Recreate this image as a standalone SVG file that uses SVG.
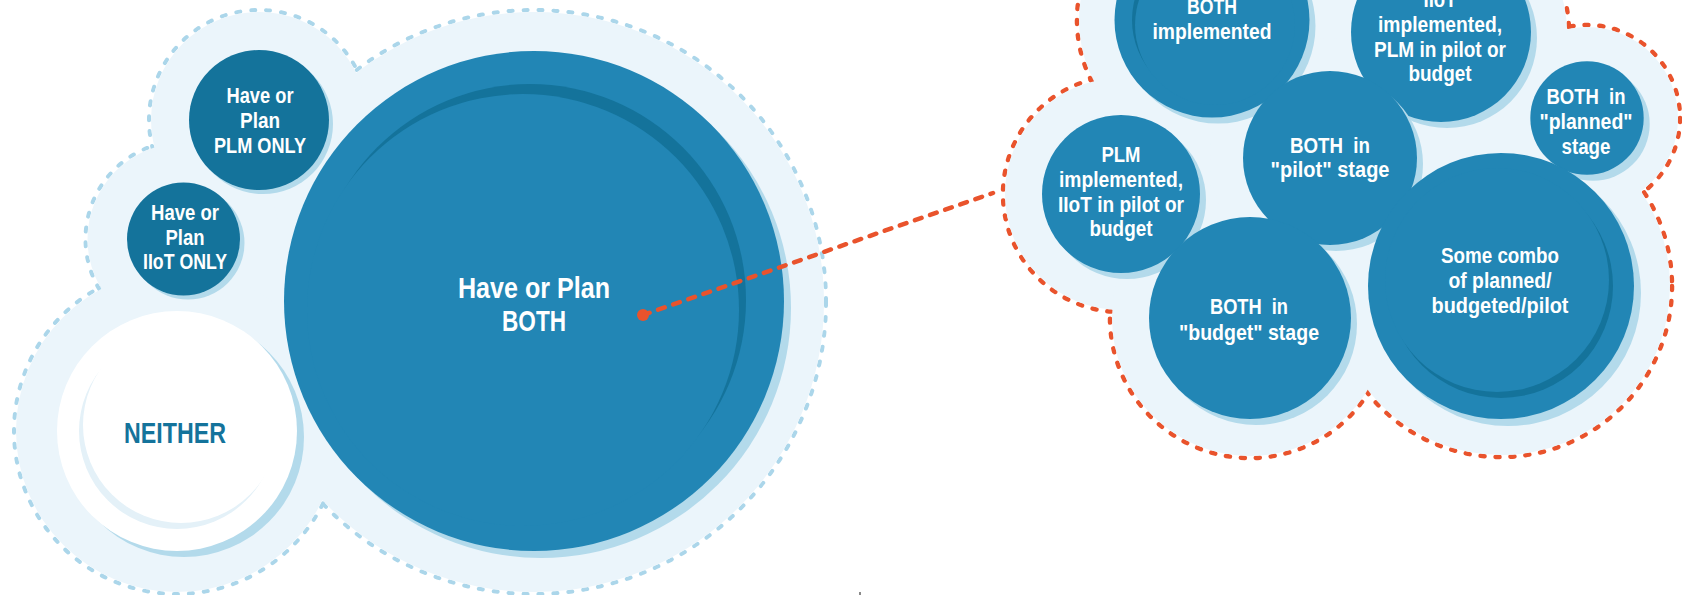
<svg xmlns="http://www.w3.org/2000/svg" width="1682" height="595" viewBox="0 0 1682 595">
<style>
.bf{fill:#ebf5fb}
.bd{fill:none;stroke:#abd6ea;stroke-width:4;stroke-dasharray:4 11;stroke-linecap:round}
.rd{fill:none;stroke:#e9532c;stroke-width:4.5;stroke-dasharray:4 11;stroke-linecap:round}
.sh{fill:#b3daeb}
.mb{fill:#2286b5}
.dk{fill:#14739b}
.wh{fill:#ffffff}
.lt{fill:#e4f1f8}
.t{font-family:"Liberation Sans",Arial,sans-serif;font-weight:bold;fill:#ffffff;text-anchor:middle}
.s22{font-size:22px}
.s30{font-size:30px}
</style>
<rect width="1682" height="595" fill="#ffffff"/>
<g id="left-cloud">
<circle class="bd" cx="534" cy="302" r="292"/>
<circle class="bd" cx="259" cy="120" r="110"/>
<circle class="bd" cx="183.5" cy="239" r="98"/>
<circle class="bd" cx="177" cy="431" r="163"/>
<circle class="bf" cx="534" cy="302" r="290"/>
<circle class="bf" cx="259" cy="120" r="108"/>
<circle class="bf" cx="183.5" cy="239" r="96"/>
<circle class="bf" cx="177" cy="431" r="161"/>
</g>
<g id="right-cloud">
<circle class="rd" cx="1212" cy="20" r="135"/>
<circle class="rd" cx="1441" cy="32" r="128"/>
<circle class="rd" cx="1587" cy="118" r="93"/>
<circle class="rd" cx="1121" cy="194" r="118"/>
<circle class="rd" cx="1501" cy="286" r="171"/>
<circle class="rd" cx="1250" cy="318" r="140"/>
<circle class="bf" cx="1212" cy="20" r="133"/>
<circle class="bf" cx="1441" cy="32" r="126"/>
<circle class="bf" cx="1587" cy="118" r="91"/>
<circle class="bf" cx="1121" cy="194" r="116"/>
<circle class="bf" cx="1501" cy="286" r="169"/>
<circle class="bf" cx="1250" cy="318" r="138"/>
<circle class="bf" cx="1330" cy="158" r="120"/>
</g>
<g id="node-both">
<circle class="sh" cx="541" cy="308" r="250"/>
<circle class="mb" cx="534" cy="301" r="250"/>
<circle class="dk" cx="530" cy="300" r="216"/>
<circle class="mb" cx="523" cy="310" r="216"/>
<text class="t s30" x="534" y="298" textLength="152" lengthAdjust="spacingAndGlyphs">Have or Plan</text>
<text class="t s30" x="534" y="331" textLength="64" lengthAdjust="spacingAndGlyphs">BOTH</text>
</g>
<g id="node-plm-only">
<circle class="sh" cx="263" cy="124" r="70"/>
<circle class="dk" cx="259" cy="120" r="70"/>
<text class="t s22" x="260" y="103" textLength="67" lengthAdjust="spacingAndGlyphs">Have or</text>
<text class="t s22" x="260" y="128" textLength="40" lengthAdjust="spacingAndGlyphs">Plan</text>
<text class="t s22" x="260" y="153" textLength="92" lengthAdjust="spacingAndGlyphs">PLM ONLY</text>
</g>
<g id="node-iiot-only">
<circle class="sh" cx="188" cy="243" r="56.5"/>
<circle class="dk" cx="183.5" cy="239" r="56.5"/>
<text class="t s22" x="185" y="220" textLength="68" lengthAdjust="spacingAndGlyphs">Have or</text>
<text class="t s22" x="185" y="245" textLength="39" lengthAdjust="spacingAndGlyphs">Plan</text>
<text class="t s22" x="185" y="269" textLength="84" lengthAdjust="spacingAndGlyphs">IIoT ONLY</text>
</g>
<g id="node-neither">
<circle class="sh" cx="184" cy="437" r="120"/>
<circle class="wh" cx="177" cy="431" r="120"/>
<circle class="lt" cx="177" cy="431" r="98"/>
<circle class="wh" cx="181" cy="425" r="98"/>
<text class="t s30" x="175" y="443" style="fill:#14739b" textLength="102" lengthAdjust="spacingAndGlyphs">NEITHER</text>
</g>
<g id="node-both-implemented">
<circle class="sh" cx="1218" cy="26" r="97.5"/>
<circle class="mb" cx="1212" cy="20" r="97.5"/>
<circle class="dk" cx="1212" cy="20" r="80"/>
<circle class="mb" cx="1215" cy="25" r="80"/>
<text class="t s22" x="1212" y="14" textLength="50" lengthAdjust="spacingAndGlyphs">BOTH</text>
<text class="t s22" x="1212" y="39" textLength="119" lengthAdjust="spacingAndGlyphs">implemented</text>
</g>
<g id="node-iiot-implemented">
<circle class="sh" cx="1447" cy="38" r="90"/>
<circle class="mb" cx="1441" cy="32" r="90"/>
<text class="t s22" x="1440" y="7" textLength="33" lengthAdjust="spacingAndGlyphs">IIoT</text>
<text class="t s22" x="1440" y="32" textLength="124" lengthAdjust="spacingAndGlyphs">implemented,</text>
<text class="t s22" x="1440" y="57" textLength="132" lengthAdjust="spacingAndGlyphs">PLM in pilot or</text>
<text class="t s22" x="1440" y="81" textLength="63" lengthAdjust="spacingAndGlyphs">budget</text>
</g>
<g id="node-both-planned">
<circle class="sh" cx="1593" cy="124" r="56.7"/>
<circle class="mb" cx="1587" cy="118" r="56.7"/>
<text class="t s22" x="1586" y="104" xml:space="preserve" textLength="79" lengthAdjust="spacingAndGlyphs">BOTH  in</text>
<text class="t s22" x="1586" y="129" textLength="93" lengthAdjust="spacingAndGlyphs">"planned"</text>
<text class="t s22" x="1586" y="154" textLength="49" lengthAdjust="spacingAndGlyphs">stage</text>
</g>
<g id="node-plm-implemented">
<circle class="sh" cx="1127" cy="200" r="79"/>
<circle class="mb" cx="1121" cy="194" r="79"/>
<text class="t s22" x="1121" y="162" textLength="39" lengthAdjust="spacingAndGlyphs">PLM</text>
<text class="t s22" x="1121" y="187" textLength="124" lengthAdjust="spacingAndGlyphs">implemented,</text>
<text class="t s22" x="1121" y="212" textLength="126" lengthAdjust="spacingAndGlyphs">IIoT in pilot or</text>
<text class="t s22" x="1121" y="236" textLength="63" lengthAdjust="spacingAndGlyphs">budget</text>
</g>
<g id="node-both-pilot">
<circle class="sh" cx="1336" cy="164" r="87"/>
<circle class="mb" cx="1330" cy="158" r="87"/>
<text class="t s22" x="1330" y="153" xml:space="preserve" textLength="80" lengthAdjust="spacingAndGlyphs">BOTH  in</text>
<text class="t s22" x="1330" y="177" textLength="119" lengthAdjust="spacingAndGlyphs">"pilot" stage</text>
</g>
<g id="node-both-budget">
<circle class="sh" cx="1256" cy="324" r="101"/>
<circle class="mb" cx="1250" cy="318" r="101"/>
<text class="t s22" x="1249" y="314" xml:space="preserve" textLength="78" lengthAdjust="spacingAndGlyphs">BOTH  in</text>
<text class="t s22" x="1249" y="340" textLength="140" lengthAdjust="spacingAndGlyphs">"budget" stage</text>
</g>
<g id="node-some-combo">
<circle class="sh" cx="1508" cy="293" r="133"/>
<circle class="mb" cx="1501" cy="286" r="133"/>
<circle class="dk" cx="1501" cy="286" r="112"/>
<circle class="mb" cx="1497" cy="280" r="112"/>
<text class="t s22" x="1500" y="263" textLength="118" lengthAdjust="spacingAndGlyphs">Some combo</text>
<text class="t s22" x="1500" y="288" textLength="103" lengthAdjust="spacingAndGlyphs">of planned/</text>
<text class="t s22" x="1500" y="313" textLength="137" lengthAdjust="spacingAndGlyphs">budgeted/pilot</text>
</g>
<g id="connectors">
<line class="rd" x1="643" y1="315" x2="993" y2="193" style="stroke-dasharray:7 9"/>
<circle cx="643" cy="315" r="6" fill="#e9532c"/>
</g>
<rect x="859" y="592" width="2" height="3" fill="#8a8a8a"/>
</svg>
